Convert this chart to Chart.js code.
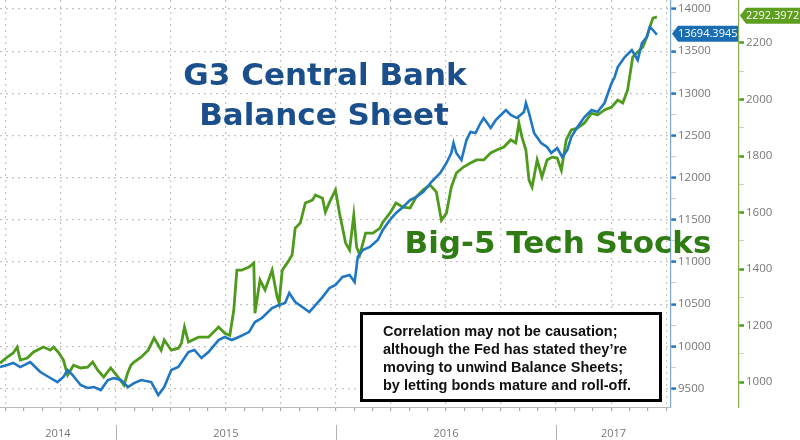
<!DOCTYPE html>
<html>
<head>
<meta charset="utf-8">
<script src="https://cdn.jsdelivr.net/npm/chart.js@4/dist/chart.umd.min.js"></script>
<style>
  html, body { margin: 0; padding: 0; background: #fff; }
  #wrap { width: 800px; height: 440px; position: relative; }
</style>
</head>
<body>
<div id="wrap"><canvas id="chart" width="800" height="440"></canvas></div>
<script>
// G3 central bank balance sheet (USD bn) - x in fractional years
const blueX = [2014.474,2014.506,2014.534,2014.566,2014.611,2014.625,2014.657,2014.703,2014.735,2014.762,2014.781,2014.804,2014.840,2014.872,2014.900,2014.932,2014.964,2014.991,2015.023,2015.055,2015.083,2015.115,2015.161,2015.193,2015.220,2015.252,2015.284,2015.330,2015.357,2015.389,2015.421,2015.467,2015.495,2015.527,2015.559,2015.605,2015.632,2015.664,2015.710,2015.742,2015.769,2015.788,2015.815,2015.847,2015.879,2015.907,2015.939,2015.971,2015.998,2016.030,2016.062,2016.085,2016.099,2016.122,2016.154,2016.190,2016.213,2016.245,2016.273,2016.305,2016.337,2016.364,2016.396,2016.433,2016.474,2016.502,2016.524,2016.534,2016.547,2016.570,2016.593,2016.611,2016.634,2016.657,2016.671,2016.703,2016.726,2016.749,2016.772,2016.794,2016.822,2016.854,2016.863,2016.877,2016.900,2016.932,2016.959,2016.978,2017.005,2017.028,2017.051,2017.069,2017.097,2017.129,2017.161,2017.188,2017.220,2017.252,2017.266,2017.280,2017.312,2017.344,2017.371,2017.390,2017.412,2017.426,2017.440,2017.458];
const blueY = [9754,9778,9802,9754,9814,9778,9695,9624,9576,9636,9719,9659,9541,9505,9517,9481,9600,9624,9600,9517,9564,9600,9576,9422,9517,9719,9754,9932,9956,9861,9932,10074,10110,10074,10110,10169,10288,10335,10454,10489,10513,10632,10525,10466,10406,10489,10584,10691,10727,10822,10846,10762,11059,11142,11178,11260,11379,11498,11581,11652,11735,11770,11830,11948,12055,12174,12292,12411,12292,12209,12446,12541,12529,12648,12707,12589,12684,12743,12802,12743,12707,12778,12885,12767,12529,12411,12363,12292,12351,12245,12328,12482,12601,12719,12802,12778,12885,13122,13194,13312,13431,13514,13395,13597,13668,13787,13751,13694.3945];

// Big-5 tech stocks index - x in fractional years
const greenX = [2014.474,2014.506,2014.534,2014.552,2014.566,2014.598,2014.625,2014.671,2014.703,2014.717,2014.739,2014.762,2014.781,2014.808,2014.840,2014.872,2014.895,2014.918,2014.945,2014.977,2015.010,2015.037,2015.055,2015.069,2015.083,2015.115,2015.147,2015.174,2015.206,2015.220,2015.252,2015.284,2015.298,2015.312,2015.330,2015.376,2015.421,2015.467,2015.495,2015.518,2015.536,2015.550,2015.572,2015.605,2015.627,2015.632,2015.655,2015.678,2015.710,2015.733,2015.742,2015.756,2015.778,2015.801,2015.815,2015.838,2015.861,2015.893,2015.907,2015.939,2015.952,2015.971,2015.998,2016.016,2016.044,2016.062,2016.081,2016.094,2016.108,2016.135,2016.168,2016.200,2016.213,2016.245,2016.273,2016.305,2016.337,2016.364,2016.396,2016.428,2016.456,2016.479,2016.502,2016.524,2016.547,2016.579,2016.611,2016.639,2016.671,2016.703,2016.730,2016.763,2016.794,2016.817,2016.831,2016.845,2016.863,2016.877,2016.891,2016.914,2016.936,2016.959,2016.982,2017.005,2017.024,2017.046,2017.069,2017.097,2017.129,2017.161,2017.188,2017.220,2017.252,2017.280,2017.303,2017.325,2017.348,2017.371,2017.394,2017.412,2017.426,2017.440,2017.458];
const greenY = [1067,1088,1103,1124,1078,1085,1106,1124,1113,1124,1106,1078,1025,1060,1050,1053,1071,1042,1018,1050,1018,989,1035,1060,1071,1088,1113,1156,1113,1149,1113,1120,1138,1195,1142,1159,1159,1195,1173,1166,1255,1396,1396,1407,1421,1244,1361,1326,1396,1301,1280,1396,1421,1450,1545,1563,1634,1644,1662,1651,1602,1637,1680,1598,1492,1467,1591,1478,1450,1527,1527,1545,1566,1598,1634,1619,1616,1655,1680,1697,1673,1573,1598,1690,1740,1761,1775,1786,1786,1811,1821,1832,1857,1846,1917,1867,1821,1715,1690,1786,1726,1786,1796,1793,1750,1857,1892,1899,1917,1952,1945,1963,1973,1998,1988,2034,2150,2168,2186,2221,2257,2288,2292.3972];

const blueTicks = [9500, 10000, 10500, 11000, 11500, 12000, 12500, 13000, 13500, 14000];
const greenTicks = [1000, 1200, 1400, 1600, 1800, 2000, 2200];
const years = [2014, 2015, 2016, 2017];

const xMin = 2014.474, xMax = 2017.522;
const blueMin = 9280, blueMax = 14107;
const greenMin = 912, greenMax = 2352;
const BLUE = '#1f77c4';
const GREEN = '#4e9a1c';

function pts(xs, ys) {
    return xs.map((x, i) => ({ x: x, y: ys[i] }));
}

// monthly ticks on x, minor ticks on the value axes
function monthTicks() {
    let out = [];
    for (let y = 2014; y <= 2017; y++) {
        for (let m = 0; m < 12; m++) {
            let v = y + m / 12;
            if (v > xMin && v < xMax) out.push({ value: v });
        }
    }
    return out;
}
function withMinor(major, lo, hi) {
    let out = [];
    let half = (major[1] - major[0]) / 2;
    out.push({ value: major[0] - half, major: false });
    major.forEach(v => {
        out.push({ value: v, major: true });
        out.push({ value: v + half, major: false });
    });
    return out.filter(t => t.value >= lo && t.value <= hi);
}
function isQuarter(v) {
    let m = Math.round((v - Math.floor(v)) * 12);
    return m % 3 === 0;
}
function noPad(s) {
    s.paddingTop = 0; s.paddingBottom = 0;
    s.paddingLeft = 0; s.paddingRight = 0;
}

const overlay = {
    id: 'overlay',
    afterDraw(chart) {
        const ctx = chart.ctx;
        const x = chart.scales.x;
        const yb = chart.scales.yBlue;
        const yg = chart.scales.yGreen;
        const bottom = chart.chartArea.bottom;

        // year dividers + labels
        ctx.save();
        ctx.strokeStyle = '#b0b0b0';
        ctx.lineWidth = 1;
        ctx.fillStyle = '#777';
        ctx.font = '11px "Open Sans"';
        ctx.textAlign = 'center';
        ctx.textBaseline = 'middle';
        years.forEach(yr => {
            if (yr > xMin) {
                let px = Math.round(x.getPixelForValue(yr)) + 0.5;
                ctx.beginPath();
                ctx.moveTo(px, bottom + 18);
                ctx.lineTo(px, 440);
                ctx.stroke();
            }
            let a = x.getPixelForValue(Math.max(yr, xMin));
            let b = x.getPixelForValue(Math.min(yr + 1, xMax));
            ctx.fillText(String(yr), (a + b) / 2, bottom + 27);
        });
        ctx.restore();

        // big annotation texts
        ctx.save();
        ctx.font = 'bold 31px "DejaVu Sans"';
        ctx.textAlign = 'center';
        ctx.textBaseline = 'alphabetic';
        ctx.fillStyle = '#1b4f8b';
        ctx.fillText('G3 Central Bank', 325, 85);
        ctx.fillText('Balance Sheet', 324, 125);
        ctx.fillStyle = '#2f7b14';
        ctx.fillText('Big-5 Tech Stocks', 558, 253);
        ctx.restore();

        // note box
        ctx.save();
        ctx.fillStyle = '#fff';
        ctx.fillRect(361, 313, 300, 88);
        ctx.strokeStyle = '#000';
        ctx.lineWidth = 3;
        ctx.strokeRect(361.5, 313.5, 299, 87);
        ctx.fillStyle = '#111';
        ctx.font = 'bold 14.5px "Liberation Sans"';
        ctx.textAlign = 'left';
        ctx.textBaseline = 'middle';
        const note = [
            'Correlation may not be causation;',
            'although the Fed has stated they\u2019re',
            'moving to unwind Balance Sheets;',
            'by letting bonds mature and roll-off.'
        ];
        note.forEach((t, i) => ctx.fillText(t, 383, 332 + i * 18));
        ctx.restore();

        // last value tags
        function tag(left, right, cy, color, text) {
            ctx.save();
            ctx.fillStyle = color;
            ctx.beginPath();
            ctx.moveTo(left, cy);
            ctx.lineTo(left + 6, cy - 8);
            ctx.lineTo(right, cy - 8);
            ctx.lineTo(right, cy + 8);
            ctx.lineTo(left + 6, cy + 8);
            ctx.closePath();
            ctx.fill();
            ctx.fillStyle = '#fff';
            ctx.font = '11px "Open Sans"';
            ctx.textAlign = 'left';
            ctx.textBaseline = 'middle';
            ctx.fillText(text, left + 6, cy + 0.5);
            ctx.restore();
        }
        const lb = blueY[blueY.length - 1];
        const lg = greenY[greenY.length - 1];
        tag(yb.left + 1, yg.left - 1, yb.getPixelForValue(lb) - 1, '#1a6cb3', lb.toFixed(4));
        tag(yg.left + 1, 800, yg.getPixelForValue(lg) - 1, '#5e9e1e', lg.toFixed(4));
    }
};

new Chart(document.getElementById('chart'), {
    type: 'line',
    data: {
        datasets: [
            {
                label: 'Big-5 Tech Stocks',
                data: pts(greenX, greenY),
                yAxisID: 'yGreen',
                borderColor: GREEN,
                borderWidth: 2.8,
                pointRadius: 0,
                tension: 0,
                order: 2
            },
            {
                label: 'G3 Central Bank Balance Sheet',
                data: pts(blueX, blueY),
                yAxisID: 'yBlue',
                borderColor: BLUE,
                borderWidth: 2.6,
                pointRadius: 0,
                tension: 0,
                order: 1
            }
        ]
    },
    options: {
        responsive: false,
        animation: false,
        maintainAspectRatio: false,
        devicePixelRatio: 1,
        layout: { padding: 0 },
        plugins: { legend: { display: false }, tooltip: { enabled: false } },
        scales: {
            x: {
                type: 'linear',
                min: xMin,
                max: xMax,
                afterBuildTicks: s => { s.ticks = monthTicks(); },
                afterFit: s => { s.height = 33; noPad(s); },
                ticks: { callback: () => '', autoSkip: false, maxRotation: 0 },
                grid: {
                    color: c => (c.tick && isQuarter(c.tick.value)) ? '#c4c4c4' : 'rgba(0,0,0,0)',
                    tickColor: '#a8a8a8',
                    tickLength: 4,
                    tickBorderDash: [],
                    lineWidth: 1.2
                },
                border: { color: '#b8b8b8', dash: [2, 4] }
            },
            yBlue: {
                position: 'right',
                min: blueMin,
                max: blueMax,
                afterBuildTicks: s => { s.ticks = withMinor(blueTicks, blueMin, blueMax); },
                afterFit: s => { s.width = 68; noPad(s); },
                ticks: {
                    autoSkip: false,
                    color: '#777',
                    font: { family: 'Open Sans', size: 11.5 },
                    padding: 2,
                    callback: (v, i, t) => t[i].major ? String(v) : ''
                },
                grid: {
                    color: c => (c.tick && c.tick.major) ? '#c4c4c4' : 'rgba(0,0,0,0)',
                    tickColor: c => (c.tick && c.tick.major) ? '#1f77c4' : '#b8cde0',
                    tickLength: 5,
                    tickWidth: c => (c.tick && c.tick.major) ? 2.5 : 1,
                    tickBorderDash: [],
                    lineWidth: 1.2
                },
                border: { color: '#7aa9d6', width: 1.2, dash: [2, 4] }
            },
            yGreen: {
                position: 'right',
                min: greenMin,
                max: greenMax,
                afterBuildTicks: s => { s.ticks = withMinor(greenTicks, greenMin, greenMax); },
                afterFit: s => { s.width = 61; noPad(s); },
                ticks: {
                    autoSkip: false,
                    color: '#777',
                    font: { family: 'Open Sans', size: 11.5 },
                    padding: 2,
                    callback: (v, i, t) => t[i].major ? String(v) : ''
                },
                grid: {
                    drawOnChartArea: false,
                    tickColor: c => (c.tick && c.tick.major) ? '#4e9a1c' : '#c4d9b4',
                    tickLength: 5,
                    tickWidth: c => (c.tick && c.tick.major) ? 2.5 : 1,
                    tickBorderDash: []
                },
                border: { color: '#86b04e', width: 1.2 }
            }
        }
    },
    plugins: [overlay]
});
</script>
</body>
</html>
